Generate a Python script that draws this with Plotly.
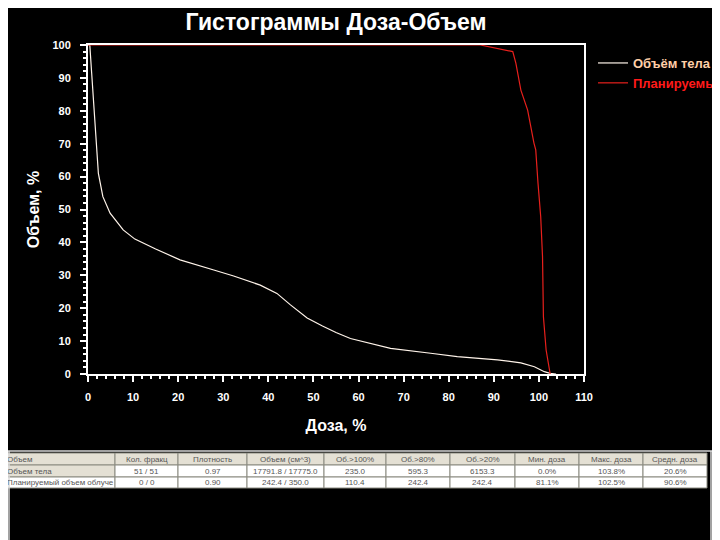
import plotly.graph_objects as go

# ---------------- data ----------------
dose_body = [0, 0.4, 0.8, 1.3, 1.7, 2.3, 3.3, 4.9, 7.8, 10.4, 15, 20.4, 27.9, 32.3, 38.2,
             41.9, 44.9, 48.6, 52, 55, 58.2, 61.2, 67.1, 76, 81.9, 90.8, 96, 99, 101.2,
             102.5, 103.8]
vol_body = [100, 100, 91.7, 81.2, 71.1, 61, 53.9, 48.9, 43.8, 41, 38, 34.7, 31.6, 29.8, 27,
            24.5, 21, 17, 14.6, 12.6, 10.8, 9.8, 7.8, 6.3, 5.3, 4.3, 3.4, 2.2, 0.7,
            0.2, 0]

dose_ptv = [0, 80, 87, 94.2, 94.9, 96, 97.5, 98.9, 99.3, 99.8, 100.4, 100.8, 101, 101.6,
            102.3, 102.5]
vol_ptv = [100, 100, 100, 98, 94.4, 86.3, 80.2, 70.2, 68.1, 58, 47.8, 35.7, 17.4, 7.3,
           1.2, 0]

series_names = ["Объём тела", "Планируемый объем облучения"]

x_ticks = [0, 10, 20, 30, 40, 50, 60, 70, 80, 90, 100, 110]
y_ticks = [0, 10, 20, 30, 40, 50, 60, 70, 80, 90, 100]

table_header = ["Объем", "Кол. фракц", "Плотность", "Объем (см^3)", "Об.>100%",
                "Об.>80%", "Об.>20%", "Мин. доза", "Макс. доза", "Средн. доза"]
row_body = ["Объем тела", "51 / 51", "0.97", "17791.8 / 17775.0", "235.0", "595.3",
            "6153.3", "0.0%", "103.8%", "20.6%"]
row_ptv = ["Планируемый объем облуче", "0 / 0", "0.90", "242.4 / 350.0", "110.4", "242.4",
           "242.4", "81.1%", "102.5%", "90.6%"]

# ---------------- layout helpers ----------------
# page shows the figure with an 8 px offset; work in screen pixels
OFF = 8
W, H = 720 - OFF, 540 - OFF
def px(x):
    return (x - OFF) / W
def py(y):
    return 1 - (y - OFF) / H

fig = go.Figure()

fig.add_trace(go.Scatter(
    x=dose_body, y=vol_body, mode="lines",
    name='<span style="color:#ffcfa8"><b>' + series_names[0] + '</b></span>',
    line=dict(color="#fff4ea", width=1.2),
))
fig.add_trace(go.Scatter(
    x=dose_ptv, y=vol_ptv, mode="lines",
    name='<span style="color:#ff1a1a"><b>' + series_names[1] + '</b></span>',
    line=dict(color="#e8201c", width=1.2),
))

# ---------------- table drawn with shapes + annotations ----------------
col_edges = [3, 115, 178, 247, 324, 386, 450, 515, 579, 643, 707]
row_edges = [453, 465, 477, 488]
rows = [table_header, row_body, row_ptv]
shapes = []
annotations = []
for ri, row in enumerate(rows):
    y0, y1 = row_edges[ri], row_edges[ri + 1]
    for ci, txt in enumerate(row):
        x0, x1 = col_edges[ci], col_edges[ci + 1]
        gray = ri == 0 or (ri == 1 and ci == 0)
        shapes.append(dict(type="rect", xref="paper", yref="paper",
                           x0=px(x0), x1=px(x1), y0=py(y1), y1=py(y0),
                           fillcolor="#e4e0d4" if gray else "#ffffff",
                           line=dict(color="#8a8a80", width=1), layer="above"))
        if ci == 0:
            annotations.append(dict(x=px(x0 + 2), y=py((y0 + y1) / 2), xref="paper", yref="paper",
                                    text=txt, showarrow=False, xanchor="left", yanchor="middle",
                                    font=dict(family="Liberation Sans", size=8, color="#555555")))
        else:
            annotations.append(dict(x=px((x0 + x1) / 2), y=py((y0 + y1) / 2), xref="paper", yref="paper",
                                    text=txt, showarrow=False, xanchor="center", yanchor="middle",
                                    font=dict(family="Liberation Sans", size=8, color="#555555")))

# frame lines around the table area
shapes.append(dict(type="line", xref="paper", yref="paper", x0=px(OFF), x1=1, y0=py(451), y1=py(451),
                   line=dict(color="#d8d8d8", width=1.5)))
shapes.append(dict(type="line", xref="paper", yref="paper", x0=px(9), x1=px(9), y0=py(451), y1=0,
                   line=dict(color="#d8d8d8", width=1.5)))
shapes.append(dict(type="line", xref="paper", yref="paper", x0=px(711), x1=px(711), y0=py(451), y1=0,
                   line=dict(color="#d8d8d8", width=1.5)))

axis_font = dict(family="Liberation Sans", size=11, color="white")

fig.update_layout(
    width=W, height=H,
    paper_bgcolor="black", plot_bgcolor="black",
    margin=dict(l=0, r=0, t=0, b=0, autoexpand=False),
    title=dict(
        text="<b>Гистограммы Доза-Объем</b>",
        x=px(336), xanchor="center", y=py(22), yanchor="middle",
        font=dict(family="Liberation Sans", size=23, color="white"),
    ),
    xaxis=dict(
        domain=[px(88), px(584)], range=[0, 110],
        tickmode="array", tickvals=x_ticks, ticktext=["<b>%d</b>" % v for v in x_ticks],
        ticks="outside", ticklen=6, tickwidth=2, tickcolor="white",
        minor=dict(dtick=2, ticks="outside", ticklen=3, tickwidth=1.5, tickcolor="white"),
        showline=True, linecolor="white", linewidth=2, mirror=True,
        showgrid=False, zeroline=False,
        tickfont=axis_font, ticklabelstandoff=6,
        title=dict(text="<b>Доза, %</b>", font=dict(family="Liberation Sans", size=16, color="white"),
                   standoff=18),
    ),
    yaxis=dict(
        domain=[py(374), py(45)], range=[0, 100],
        tickmode="array", tickvals=y_ticks, ticktext=["<b>%d</b>" % v for v in y_ticks],
        ticks="outside", ticklen=6, tickwidth=2, tickcolor="white",
        minor=dict(dtick=2, ticks="outside", ticklen=3, tickwidth=1.5, tickcolor="white"),
        showline=True, linecolor="white", linewidth=2, mirror=True,
        showgrid=False, zeroline=False,
        tickfont=axis_font, ticklabelstandoff=7,
        title=dict(text="<b>Объем, %</b>", font=dict(family="Liberation Sans", size=16, color="white"),
                   standoff=9),
    ),
    legend=dict(
        x=px(593), xanchor="left", y=py(48), yanchor="top",
        bgcolor="rgba(0,0,0,0)",
        font=dict(family="Liberation Sans", size=13, color="white"),
        tracegroupgap=0, itemwidth=30,
    ),
    showlegend=True,
    shapes=shapes,
    annotations=annotations,
)

fig.write_html("out.html")
